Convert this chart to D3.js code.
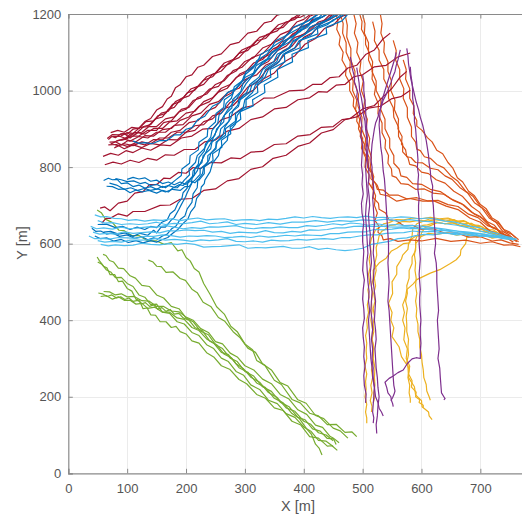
<!DOCTYPE html>
<html><head><meta charset="utf-8">
<script src="https://cdn.jsdelivr.net/npm/d3@7"></script>
<style>body{margin:0;background:#fff}svg{display:block}</style>
</head><body><svg id="c" width="522" height="515"></svg>
<script>
const xTicks=[0,100,200,300,400,500,600,700];
const yTicks=[0,200,400,600,800,1000,1200];
const xLabel="X [m]", yLabel="Y [m]";

const greenTracks=[
[[49,688],[56,681],[63,664],[75,655],[86,635],[95,634],[108,621],[120,621],[135,607],[150,607],[163,598],[175,603],[186,581],[193,584],[200,564],[207,555],[214,535],[222,526],[230,496],[241,467],[252,435],[265,416],[276,384],[287,370],[300,338],[313,323],[320,295],[334,282],[350,243],[362,232],[380,193],[394,184],[410,157],[425,150],[440,127],[455,128],[470,107],[482,108],[490,96]],
[[136,557],[144,552],[150,541],[158,540],[166,525],[178,526],[190,509],[199,504],[210,481],[219,472],[229,447],[242,436],[255,407],[266,397],[280,370],[292,354],[305,327],[318,316],[330,286],[345,270],[360,237],[373,228],[390,192],[404,183],[420,151],[434,143],[450,118],[462,111],[475,92]],
[[49,565],[53,555],[60,541],[66,536],[71,519],[79,519],[85,501],[92,502],[100,483],[108,476],[115,455],[121,451],[127,430],[134,432],[140,414],[148,413],[156,396],[166,396],[175,381],[183,384],[190,370],[200,364],[210,346],[222,340],[235,315],[247,304],[260,281],[274,272],[290,245],[303,234],[320,206],[335,196],[350,171],[365,164],[380,136],[395,126],[410,96],[425,92],[440,71],[448,72],[457,60]],
[[50,552],[57,546],[65,531],[72,526],[80,511],[90,512],[100,496],[110,488],[120,466],[130,460],[140,441],[150,442],[160,421],[172,418],[185,396],[197,390],[210,368],[222,360],[235,336],[247,326],[260,301],[272,292],[285,266],[298,256],[310,231],[325,219],[340,191],[355,182],[370,156],[385,146],[400,121],[412,110],[425,86],[438,84],[450,70]],
[[59,572],[64,569],[70,556],[77,552],[85,536],[94,535],[105,516],[114,510],[125,491],[138,488],[150,466],[162,458],[175,436],[188,430],[200,406],[212,396],[225,371],[238,362],[250,336],[262,326],[275,301],[287,292],[300,266],[315,254],[330,226],[345,214],[360,186],[375,174],[390,146],[402,140],[415,116],[428,110],[440,91],[452,90],[460,80]],
[[51,471],[58,469],[66,462],[74,466],[82,458],[89,461],[96,454],[103,458],[110,449],[118,452],[125,443],[131,446],[138,436],[145,440],[152,429],[159,433],[166,423],[173,428],[180,416],[188,418],[195,406],[205,400],[215,381],[228,372],[240,346],[252,336],[265,311],[277,302],[290,276],[305,264],[320,236],[335,224],[350,196],[365,184],[380,156],[392,144],[405,116],[413,102],[420,76],[426,66],[431,48]],
[[55,462],[65,464],[75,455],[85,461],[95,452],[105,452],[115,442],[125,444],[135,431],[147,434],[160,421],[172,421],[185,406],[197,402],[210,381],[222,373],[235,351],[247,340],[260,316],[272,310],[285,286],[297,274],[310,251],[325,238],[340,211],[355,198],[370,171],[385,162],[400,136],[412,128],[425,106],[438,100],[450,85]],
[[60,475],[70,474],[80,466],[90,469],[100,461],[112,462],[125,451],[137,450],[150,436],[162,436],[175,424],[188,422],[200,408],[212,400],[225,378],[238,368],[250,344],[262,338],[275,314],[287,304],[300,281],[315,270],[330,246],[345,234],[360,206],[375,194],[390,166],[405,154],[420,126],[432,120],[445,96],[450,92],[455,75]]
];

const yellowTracks=[
[[758,612],[747,621],[735,622],[722,636],[710,637],[697,648],[685,649],[672,660],[660,659],[645,667],[630,665],[615,669],[600,665],[585,667],[570,662],[557,663],[545,655],[536,652],[528,642],[522,636],[518,622],[515,614],[513,600],[514,580],[511,560],[513,540],[510,520],[512,500],[509,480],[511,460],[508,440],[510,420],[507,400],[508,380],[505,360],[507,340],[506,320],[507,300],[504,280],[507,260],[505,240],[506,220],[504,200],[507,180],[505,160],[507,145],[507,131]],
[[750,615],[738,625],[725,625],[712,639],[700,639],[685,653],[670,652],[655,663],[640,659],[625,663],[610,659],[595,661],[580,657],[567,658],[555,649],[546,648],[538,637],[532,632],[528,620],[526,605],[523,590],[524,570],[521,550],[523,530],[520,510],[522,490],[519,470],[521,450],[518,430],[520,410],[518,390],[519,370],[516,350],[519,330],[517,310],[518,290],[515,270],[517,250],[514,230],[516,210],[513,190],[516,175],[515,160]],
[[745,612],[732,619],[720,615],[707,625],[695,617],[685,624],[677,617],[675,600],[667,584],[666,570],[659,558],[649,548],[631,532],[615,523],[592,506],[586,495],[575,480],[573,460],[568,440],[571,420],[568,400],[572,380],[570,349],[576,325],[574,300],[580,280],[578,260],[584,242],[583,225],[591,212],[590,200],[597,192],[596,185],[603,178],[603,171]],
[[752,610],[736,617],[720,615],[705,623],[690,619],[675,626],[660,622],[643,629],[626,624],[612,627],[600,619],[592,621],[585,614],[582,610],[580,602],[569,600],[558,588],[549,581],[540,562],[529,551],[518,531],[518,510],[515,490],[517,470],[515,450],[516,425],[514,400],[517,375],[516,350],[519,325],[518,300],[521,275],[520,250],[521,230],[519,210],[520,195],[518,184]],
[[740,620],[727,631],[715,632],[702,645],[690,645],[675,658],[660,657],[645,665],[630,662],[615,665],[600,657],[592,652],[585,637],[584,620],[578,600],[577,585],[568,570],[566,560],[558,540],[558,520],[550,500],[551,470],[544,444],[550,420],[548,400],[553,380],[550,357],[562,330],[566,305],[577,279],[578,250],[588,226],[590,205],[600,190],[601,174],[612,160],[613,150],[618,140]],
[[755,610],[742,619],[730,619],[715,631],[700,632],[685,645],[670,645],[655,655],[640,652],[625,656],[610,649],[602,648],[595,638],[594,625],[590,610],[590,590],[588,570],[590,550],[589,530],[591,510],[590,490],[592,470],[590,450],[592,430],[591,410],[594,390],[594,370],[597,350],[597,330],[600,310],[601,290],[603,270],[604,250],[608,232],[609,215],[613,200],[615,191]],
[[742,615],[728,625],[715,627],[702,638],[690,637],[677,649],[665,647],[652,655],[640,652],[627,655],[615,647],[606,642],[600,628],[598,615],[590,600],[590,582],[584,565],[584,548],[579,530],[579,510],[575,490],[576,470],[573,450],[576,430],[574,410],[575,390],[575,370],[578,350],[577,330],[578,310],[575,290],[579,270],[577,250],[580,230],[579,210],[581,195],[581,184]]
];

const orangeTracks=[
[[462,1200],[467,1175],[466,1150],[472,1125],[472,1100],[479,1075],[478,1050],[484,1025],[483,1000],[490,975],[488,950],[495,925],[493,900],[500,875],[498,850],[505,825],[504,800],[511,780],[510,760],[518,740],[518,720],[527,705],[528,690],[539,680],[545,662],[557,660],[570,647],[585,648],[600,637],[620,639],[640,627],[660,628],[680,617],[700,618],[720,607],[735,610],[750,602],[765,598]],
[[485,1200],[489,1175],[486,1150],[492,1125],[490,1100],[497,1075],[495,1050],[501,1025],[498,1000],[504,975],[501,950],[508,925],[506,900],[512,875],[510,850],[515,825],[513,800],[519,775],[516,750],[522,725],[520,700],[525,680],[521,660],[528,645],[526,630],[533,620],[535,610],[547,613],[560,606],[580,610],[600,607],[625,614],[650,606],[675,609],[700,601],[720,605],[740,596],[755,597],[768,592]],
[[470,1200],[474,1170],[473,1140],[480,1110],[480,1080],[487,1050],[486,1020],[493,990],[492,960],[499,930],[498,900],[505,875],[504,850],[511,825],[510,800],[517,785],[517,767],[525,752],[530,729],[543,725],[558,711],[580,718],[602,711],[622,711],[642,698],[662,689],[682,667],[700,656],[716,633],[736,623],[756,604]],
[[500,1200],[504,1175],[503,1150],[510,1125],[510,1100],[517,1075],[516,1050],[523,1025],[523,1000],[531,975],[531,950],[538,925],[538,900],[546,875],[546,850],[553,830],[553,810],[562,795],[565,777],[575,773],[585,757],[600,755],[615,742],[632,736],[650,717],[668,705],[685,682],[700,671],[715,647],[728,638],[740,617],[752,615],[762,605]],
[[517,1180],[521,1155],[520,1130],[528,1105],[528,1080],[536,1055],[536,1030],[544,1005],[544,980],[552,955],[553,930],[561,905],[561,880],[568,860],[568,840],[577,825],[580,807],[590,803],[600,787],[612,783],[625,767],[640,758],[655,737],[670,723],[685,697],[698,683],[712,657],[724,648],[735,627],[747,621],[758,610]],
[[552,1131],[557,1105],[556,1080],[563,1055],[563,1030],[570,1005],[569,980],[576,955],[576,930],[583,905],[583,880],[590,865],[592,847],[598,843],[605,827],[615,823],[626,807],[638,798],[650,777],[662,763],[675,737],[688,723],[700,697],[710,685],[720,662],[731,653],[742,632],[753,625],[765,610]],
[[569,1080],[574,1055],[573,1030],[580,1005],[580,980],[587,960],[586,940],[592,922],[592,907],[601,896],[610,877],[618,866],[626,844],[636,835],[645,812],[653,798],[661,772],[670,761],[680,737],[690,725],[700,702],[710,691],[720,667],[730,658],[740,637],[750,630],[760,615]],
[[455,1200],[458,1180],[456,1160],[462,1140],[460,1120],[467,1100],[465,1080],[472,1060],[471,1040],[478,1020],[478,1000],[485,980],[484,960],[491,940],[490,920],[497,900],[496,880],[503,860],[502,840],[509,820],[508,800],[515,785],[514,770],[522,757],[525,742],[535,740],[545,727],[560,727],[575,717],[592,720],[610,712],[628,713],[645,702],[662,697],[680,677],[696,668],[712,647],[726,640],[740,622],[752,617],[765,605]],
[[530,1200],[533,1175],[531,1150],[537,1125],[536,1100],[543,1075],[543,1050],[549,1025],[548,1000],[555,975],[554,950],[561,925],[560,900],[567,880],[566,860],[573,845],[575,827],[582,825],[590,812],[602,811],[615,797],[628,793],[640,777],[652,768],[665,747],[678,733],[690,707],[703,693],[715,667],[727,655],[738,632],[749,623],[760,608]],
[[495,1200],[499,1180],[498,1160],[505,1140],[505,1120],[511,1100],[510,1080],[517,1055],[516,1030],[522,1010],[520,990],[527,965],[526,940],[533,915],[533,890],[539,870],[538,850],[544,830],[543,810],[549,795],[550,777],[557,773],[565,757],[577,755],[590,742],[605,743],[620,732],[638,729],[655,712],[672,701],[690,677],[705,665],[720,642],[734,633],[748,615]]
];

const redTracks=[
[[68,872],[74,880],[80,877],[90,887],[100,886],[110,899],[120,902],[130,919],[140,927],[150,949],[160,958],[168,978],[175,985],[182,1007],[190,1015],[200,1036],[210,1041],[220,1061],[230,1066],[245,1089],[260,1096],[275,1120],[290,1126],[305,1150],[320,1155],[333,1177],[345,1181],[354,1196],[362,1200]],
[[72,860],[83,869],[95,872],[105,886],[115,887],[128,906],[140,911],[152,934],[165,940],[177,964],[190,971],[202,994],[215,1001],[230,1027],[245,1036],[260,1061],[275,1071],[290,1097],[305,1105],[320,1130],[335,1136],[350,1160],[365,1165],[380,1189],[395,1192],[405,1200]],
[[75,880],[88,880],[100,874],[112,890],[125,891],[137,906],[150,906],[165,926],[180,931],[192,951],[205,956],[220,982],[235,991],[250,1016],[265,1026],[280,1052],[295,1061],[312,1086],[330,1096],[347,1124],[365,1136],[382,1164],[400,1176],[410,1194],[420,1200]],
[[70,865],[80,866],[90,858],[102,870],[115,866],[130,882],[145,881],[160,898],[175,901],[190,922],[205,931],[222,959],[240,971],[255,996],[270,1006],[285,1034],[300,1046],[315,1072],[330,1081],[348,1109],[365,1121],[382,1149],[400,1161],[415,1184],[430,1191],[440,1200]],
[[78,850],[90,859],[100,854],[115,864],[130,858],[145,872],[160,871],[175,891],[190,896],[205,916],[220,921],[235,946],[250,956],[265,984],[280,996],[295,1024],[310,1036],[325,1064],[340,1076],[355,1104],[370,1116],[385,1139],[400,1146],[415,1169],[430,1176],[443,1196],[455,1200]],
[[66,875],[75,885],[85,884],[95,888],[105,876],[118,890],[130,886],[145,901],[160,901],[172,918],[185,921],[200,941],[215,946],[230,971],[245,981],[260,1006],[275,1016],[292,1044],[310,1056],[328,1084],[345,1096],[362,1126],[380,1141],[395,1166],[410,1176],[418,1194],[425,1200]],
[[80,855],[95,861],[110,856],[125,866],[140,861],[155,876],[170,876],[185,891],[200,891],[215,908],[230,911],[245,934],[260,941],[275,969],[290,981],[305,1009],[320,1021],[337,1054],[355,1071],[370,1099],[385,1111],[400,1139],[415,1151],[430,1176],[445,1186],[460,1200]],
[[90,870],[105,881],[120,881],[135,896],[150,896],[162,916],[175,921],[188,944],[200,951],[212,974],[225,981],[240,1004],[255,1011],[270,1039],[285,1051],[300,1076],[315,1086],[330,1111],[345,1121],[360,1146],[375,1156],[388,1179],[400,1186],[412,1200]],
[[72,890],[84,896],[95,891],[108,904],[120,901],[132,919],[145,921],[158,941],[170,946],[182,971],[195,981],[208,1004],[220,1011],[235,1036],[250,1046],[265,1072],[280,1081],[295,1106],[310,1116],[325,1139],[340,1146],[357,1172],[375,1181],[392,1200]],
[[82,868],[94,874],[105,868],[120,880],[135,876],[150,891],[165,891],[180,909],[195,911],[210,934],[225,941],[240,964],[255,971],[272,996],[290,1006],[305,1032],[320,1041],[335,1066],[350,1076],[365,1104],[380,1116],[395,1144],[410,1156],[425,1179],[440,1186],[450,1200]],
[[68,858],[82,859],[95,848],[110,858],[125,851],[140,862],[155,858],[170,872],[185,871],[200,891],[215,896],[230,919],[245,926],[262,951],[280,961],[298,989],[315,1001],[332,1031],[350,1046],[368,1076],[385,1091],[402,1121],[420,1136],[435,1162],[450,1171],[463,1192],[475,1200]],
[[88,880],[100,890],[110,888],[122,904],[135,906],[148,926],[160,931],[170,951],[180,956],[192,979],[205,986],[218,1009],[230,1016],[245,1042],[260,1051],[275,1076],[290,1086],[305,1111],[320,1121],[337,1146],[355,1156],[370,1179],[385,1186],[395,1200]],
[[59,828],[72,836],[85,831],[98,843],[110,838],[125,850],[140,844],[157,858],[173,856],[192,876],[210,881],[228,899],[246,901],[260,924],[275,931],[295,954],[314,961],[332,980],[350,981],[375,999],[400,1001],[415,1016],[430,1016],[445,1034],[460,1036],[475,1059],[490,1066],[505,1094],[520,1106],[534,1134],[547,1150]],
[[62,806],[76,813],[90,808],[105,818],[120,812],[135,823],[150,818],[165,832],[180,831],[197,846],[215,846],[232,866],[250,871],[270,894],[290,901],[310,924],[330,931],[350,952],[370,956],[390,976],[410,981],[425,997],[440,996],[455,1014],[470,1016],[485,1036],[500,1041],[520,1062],[540,1066],[560,1088],[581,1098]],
[[57,654],[64,666],[71,666],[85,678],[100,672],[110,684],[130,684],[156,700],[173,701],[190,716],[210,718],[230,739],[250,743],[270,764],[290,770],[310,794],[330,801],[348,823],[370,831],[390,854],[410,863],[430,889],[450,898],[470,924],[490,931],[510,954],[530,959],[550,979],[565,984],[581,1001]],
[[54,693],[62,696],[71,686],[85,706],[100,711],[113,732],[127,736],[138,754],[150,754],[162,771],[173,770],[187,786],[200,784],[212,799],[224,796],[242,812],[260,811],[276,824],[292,822],[310,839],[330,841],[350,859],[370,861],[390,881],[411,885],[430,904],[450,906],[465,924],[479,927],[500,952],[520,961],[535,984],[550,1006],[563,1034],[575,1050]]
];

const blueTracks=[
[[60,765],[68,771],[75,767],[83,768],[90,757],[100,759],[110,749],[120,753],[130,745],[140,749],[150,742],[160,750],[165,746],[175,757],[182,766],[192,778],[193,795],[206,810],[207,830],[221,845],[222,865],[236,880],[237,900],[250,918],[251,940],[264,956],[265,976],[279,991],[282,1010],[298,1028],[302,1050],[320,1070],[327,1095],[345,1110],[352,1130],[373,1146],[382,1165],[408,1182],[425,1200]],
[[65,750],[75,749],[85,742],[95,743],[105,733],[115,740],[125,735],[137,739],[150,732],[160,739],[170,735],[178,746],[185,746],[194,760],[197,766],[206,780],[205,795],[216,812],[219,830],[231,848],[237,865],[249,883],[252,900],[264,918],[265,935],[278,955],[279,976],[293,997],[297,1020],[314,1042],[319,1065],[338,1083],[345,1100],[361,1114],[367,1130],[388,1148],[397,1165],[420,1182],[440,1200]],
[[80,770],[90,767],[100,762],[111,764],[122,757],[131,760],[140,752],[150,755],[160,747],[170,752],[180,747],[188,754],[195,752],[203,764],[205,766],[214,780],[215,795],[227,812],[229,830],[242,848],[244,865],[257,883],[259,900],[273,920],[274,940],[289,958],[292,976],[308,995],[312,1015],[330,1035],[335,1055],[354,1075],[359,1095],[377,1112],[382,1130],[403,1148],[410,1165],[436,1182],[455,1200]],
[[70,758],[82,753],[95,742],[106,746],[118,739],[129,744],[140,739],[152,743],[165,735],[177,742],[190,739],[198,749],[205,749],[212,762],[215,766],[224,781],[224,795],[237,812],[237,830],[251,848],[251,865],[267,883],[267,900],[284,920],[284,940],[302,958],[302,976],[322,995],[321,1015],[344,1035],[343,1055],[368,1075],[367,1095],[394,1112],[393,1130],[424,1148],[423,1165],[450,1182],[465,1200]],
[[100,768],[110,773],[120,769],[130,772],[140,763],[150,766],[160,757],[170,761],[180,754],[190,761],[200,755],[208,764],[215,759],[220,767],[222,766],[231,783],[231,800],[246,817],[245,835],[261,852],[260,870],[276,887],[275,905],[293,925],[292,945],[314,960],[313,976],[334,995],[333,1015],[356,1035],[355,1055],[381,1075],[380,1095],[408,1112],[407,1130],[439,1148],[438,1165],[465,1182],[475,1200]],
[[40,640],[47,632],[55,633],[65,625],[75,628],[87,619],[100,623],[112,614],[125,618],[135,610],[145,615],[152,612],[160,620],[168,625],[175,638],[183,646],[190,663],[198,672],[202,691],[210,708],[212,730],[219,746],[220,766],[228,783],[230,800],[239,818],[242,835],[250,850],[253,866],[263,885],[266,905],[276,927],[280,949],[288,962],[290,976],[303,995],[308,1015],[324,1035],[330,1055],[349,1075],[355,1095],[374,1110],[380,1125],[395,1140],[410,1155],[425,1170],[442,1185],[460,1200]],
[[45,620],[55,613],[65,615],[77,607],[90,611],[102,603],[115,608],[127,602],[140,608],[150,604],[160,611],[169,616],[178,628],[186,637],[195,653],[203,664],[208,683],[215,697],[218,718],[224,730],[226,748],[231,757],[232,766],[241,788],[245,810],[255,830],[258,850],[270,870],[272,890],[284,912],[287,935],[297,955],[300,976],[313,995],[318,1015],[334,1035],[340,1055],[358,1075],[365,1095],[385,1112],[392,1130],[412,1145],[420,1160],[440,1172],[450,1185],[462,1192],[470,1200]],
[[60,630],[72,632],[85,625],[97,628],[110,619],[122,627],[135,622],[145,635],[150,628],[158,644],[165,643],[175,662],[180,668],[188,690],[192,702],[199,722],[202,733],[209,755],[210,770],[219,790],[222,803],[231,830],[235,843],[244,868],[248,883],[258,912],[262,928],[270,948],[275,958],[281,970],[286,979],[296,1002],[302,1018],[315,1042],[322,1058],[339,1082],[346,1098],[365,1120],[372,1133],[395,1155],[402,1168],[425,1190],[432,1200]],
[[50,650],[65,651],[80,642],[92,645],[105,637],[117,643],[130,637],[140,645],[150,642],[159,656],[168,662],[173,678],[181,688],[186,705],[193,718],[195,733],[202,745],[203,760],[211,775],[212,790],[221,808],[222,825],[231,842],[233,860],[242,878],[244,895],[254,915],[256,935],[266,952],[268,966],[277,980],[281,998],[294,1020],[299,1040],[315,1060],[320,1078],[338,1096],[345,1112],[363,1130],[372,1146],[392,1163],[402,1178],[425,1200]],
[[110,868],[120,862],[130,864],[142,861],[155,869],[167,869],[180,884],[190,884],[200,899],[210,903],[220,924],[232,933],[245,959],[257,968],[270,994],[285,1006],[300,1034],[315,1046],[330,1074],[345,1086],[360,1114],[375,1126],[390,1154],[405,1164],[420,1189],[432,1192],[440,1200]]
];

const lightBlueTracks=[
[[45,675],[55,670],[65,671],[78,666],[90,665],[102,661],[115,663],[130,659],[145,662],[160,661],[175,665],[190,660],[205,664],[220,667],[235,662],[250,664],[265,665],[280,660],[295,662],[310,663],[325,660],[340,664],[355,663],[370,666],[385,670],[400,667],[415,671],[430,668],[445,666],[460,669],[475,670],[490,668],[505,672],[520,668],[535,669],[550,667],[565,670],[580,669],[595,665],[610,667],[625,664],[640,659],[655,657],[670,651],[685,645],[700,641],[715,632],[730,626],[743,619],[755,615]],
[[50,660],[62,654],[75,655],[90,650],[105,652],[120,650],[135,652],[150,656],[165,650],[180,653],[195,652],[210,655],[225,659],[240,652],[255,654],[270,657],[285,650],[300,653],[320,650],[340,655],[360,651],[380,656],[400,656],[420,660],[440,656],[460,660],[480,658],[500,662],[520,660],[540,664],[560,659],[580,663],[600,659],[620,657],[640,652],[660,648],[678,642],[695,635],[712,628],[728,622],[745,614],[760,612]],
[[38,645],[48,639],[60,641],[75,638],[90,643],[105,639],[120,641],[135,644],[150,643],[165,647],[180,643],[195,639],[210,642],[225,640],[240,644],[255,643],[270,645],[285,647],[300,641],[315,639],[330,642],[345,641],[360,644],[375,642],[390,642],[405,647],[420,645],[435,648],[450,652],[465,649],[480,654],[495,652],[510,648],[525,652],[540,648],[555,650],[570,648],[585,647],[600,646],[620,642],[640,638],[660,633],[680,630],[700,626],[718,622],[738,614],[758,610]],
[[42,630],[53,625],[65,627],[80,625],[95,631],[110,627],[125,629],[140,631],[155,628],[170,634],[185,633],[200,636],[215,634],[230,635],[245,630],[260,632],[275,627],[290,630],[305,629],[320,628],[335,634],[350,629],[365,628],[380,632],[395,630],[410,636],[425,635],[440,637],[455,641],[470,641],[485,645],[500,646],[515,645],[530,646],[545,644],[560,643],[575,644],[590,641],[605,640],[620,641],[640,635],[660,633],[680,627],[700,626],[718,619],[735,620],[750,613],[762,612]],
[[35,620],[45,613],[57,614],[70,612],[85,616],[100,615],[115,614],[130,619],[145,619],[160,623],[175,621],[190,617],[205,620],[220,619],[235,621],[250,620],[265,616],[280,617],[295,619],[310,616],[325,620],[340,617],[355,619],[370,622],[385,620],[400,623],[415,622],[430,621],[445,626],[460,626],[475,630],[490,631],[505,631],[520,637],[535,636],[550,638],[565,641],[580,639],[595,640],[610,637],[625,634],[640,634],[660,629],[680,628],[700,622],[720,622],[736,616],[752,614]],
[[50,608],[62,604],[75,606],[90,604],[105,609],[120,609],[135,610],[150,614],[165,609],[180,611],[195,609],[210,606],[225,610],[240,608],[255,610],[270,613],[285,606],[300,605],[315,607],[330,604],[345,609],[360,607],[375,608],[390,611],[405,609],[420,612],[435,613],[450,611],[465,616],[480,616],[495,620],[510,623],[525,623],[540,627],[555,628],[570,629],[585,633],[600,631],[620,632],[640,627],[660,627],[680,621],[700,621],[720,617],[745,616]],
[[55,598],[68,594],[80,597],[95,595],[110,596],[125,601],[140,598],[155,597],[170,600],[185,598],[200,601],[215,598],[230,591],[245,592],[260,593],[275,595],[290,597],[305,588],[320,590],[335,589],[350,591],[365,593],[380,588],[395,588],[410,592],[425,585],[440,588],[455,584],[470,582],[485,584],[500,588],[515,598],[530,602],[545,606],[560,613],[575,615],[590,621],[605,624],[620,623],[640,628],[660,623],[680,626],[700,619],[720,620],[738,613],[755,612]]
];

const purpleTracks=[
[[479,1088],[481,1074],[482,1060],[484,1048],[486,1036],[486,1023],[489,1010],[491,997],[490,984],[493,970],[495,955],[494,943],[496,931],[499,905],[497,880],[500,855],[499,830],[498,805],[500,780],[499,755],[501,730],[498,705],[499,680],[502,655],[500,630],[500,605],[502,580],[501,555],[500,530],[503,505],[501,480],[500,455],[502,430],[503,405],[500,380],[501,355],[503,330],[502,305],[504,280],[502,255],[503,230],[506,207],[505,184]],
[[490,1060],[492,1040],[494,1020],[495,1000],[498,980],[500,960],[501,940],[504,920],[505,900],[507,875],[509,850],[508,825],[510,800],[511,775],[509,750],[511,725],[512,700],[510,675],[511,650],[513,625],[512,600],[514,575],[515,550],[513,525],[514,500],[516,475],[515,450],[514,425],[516,400],[517,375],[515,350],[517,325],[516,300],[518,275],[517,250],[520,225],[519,200],[518,180],[517,160],[519,145],[518,131]],
[[564,1106],[562,1093],[560,1080],[557,1065],[555,1050],[551,1035],[548,1020],[544,1005],[540,990],[535,975],[532,960],[528,945],[526,930],[522,915],[520,900],[518,880],[516,860],[515,840],[514,820],[516,800],[516,780],[518,760],[519,740],[517,720],[518,700],[519,675],[520,650],[518,625],[519,600],[518,575],[520,550],[519,525],[518,500],[520,475],[522,450],[521,425],[520,400],[522,375],[523,350],[521,325],[522,300],[523,275],[525,250],[526,225],[528,200],[526,175],[525,150],[523,127],[524,104]],
[[581,1062],[582,1041],[584,1020],[585,1000],[585,980],[587,960],[588,940],[588,920],[590,900],[591,880],[592,860],[593,840],[594,820],[593,800],[595,780],[594,760],[594,740],[596,720],[595,700],[595,680],[596,660],[597,640],[596,620],[596,600],[597,580],[598,560],[597,540],[596,520],[597,500],[598,480],[597,460],[597,440],[598,420],[599,400],[598,380],[598,360],[599,340],[598,320],[598,300],[591,302],[584,299],[576,287],[569,270],[560,263],[552,254],[545,248],[538,238],[541,224],[543,210],[548,200],[549,190],[551,182],[552,174]],
[[575,1110],[577,1090],[578,1070],[580,1050],[582,1030],[585,1010],[588,990],[591,970],[595,950],[598,930],[602,910],[605,890],[608,870],[610,850],[612,830],[613,810],[615,790],[616,770],[619,750],[618,725],[620,700],[621,675],[622,650],[623,625],[624,600],[622,575],[625,550],[626,525],[626,500],[627,475],[628,450],[629,425],[627,400],[628,375],[629,350],[630,325],[628,300],[631,275],[632,250],[633,230],[634,210],[638,200],[640,195],[638,192]],
[[557,1100],[555,1085],[552,1070],[549,1055],[546,1040],[543,1025],[540,1010],[537,995],[534,980],[532,965],[530,950],[529,930],[528,910],[529,890],[530,870],[531,850],[533,830],[534,810],[535,790],[537,770],[538,750],[539,725],[540,700],[541,675],[542,650],[543,625],[544,600],[544,575],[543,550],[544,525],[545,500],[544,475],[543,450],[545,425],[546,400],[547,375],[548,350],[549,325],[550,300],[551,275],[552,250],[553,230],[555,215],[553,205],[551,198],[548,190]],
[[500,1040],[502,1020],[502,1000],[504,975],[505,950],[506,925],[507,900],[508,875],[506,850],[507,825],[505,800],[506,775],[507,750],[508,725],[506,700],[505,675],[506,650],[507,625],[508,600],[509,575],[507,550],[508,525],[509,500],[511,475],[510,450],[512,425],[510,400],[511,375],[512,350],[513,325],[514,300],[516,275],[518,250],[520,225],[522,200],[526,185],[528,170],[532,160],[535,150]]
];

const groups=[
  {tracks:greenTracks,color:"#77AC30"},
  {tracks:yellowTracks,color:"#EDB120"},
  {tracks:orangeTracks,color:"#D95319"},
  {tracks:redTracks,color:"#A2142F"},
  {tracks:blueTracks,color:"#0072BD"},
  {tracks:lightBlueTracks,color:"#4DBEEE"},
  {tracks:purpleTracks,color:"#7E2F8E"}
];

const L=68.3,T=14,B=473.3,R=524.5;
const x=d3.scaleLinear().domain([0,775]).range([L,R]);
const y=d3.scaleLinear().domain([0,1200]).range([B,T]);
const svg=d3.select("#c");
const font="'Liberation Sans', Arial, Helvetica, sans-serif";

svg.append("defs").append("clipPath").attr("id","clip")
  .append("rect").attr("x",L).attr("y",T).attr("width",R-L).attr("height",B-T);

const grid=svg.append("g").attr("stroke","#ebebeb").attr("stroke-width",1);
grid.selectAll(".gx").data(xTicks.filter(d=>d>0)).enter().append("line")
  .attr("x1",d=>Math.round(x(d))+0.5).attr("x2",d=>Math.round(x(d))+0.5).attr("y1",T).attr("y2",B);
grid.selectAll(".gy").data(yTicks.filter(d=>d>0&&d<1200)).enter().append("line")
  .attr("y1",d=>Math.round(y(d))+0.5).attr("y2",d=>Math.round(y(d))+0.5).attr("x1",L).attr("x2",R);

const line=d3.line().x(d=>x(d[0])).y(d=>y(d[1]));
const plot=svg.append("g").attr("clip-path","url(#clip)");
groups.forEach(g=>{
  plot.append("g").selectAll("path").data(g.tracks).enter().append("path")
    .attr("d",line).attr("fill","none").attr("stroke",g.color)
    .attr("stroke-width",1.2).attr("stroke-linejoin","round");
});

const axCol="#8a8a8a";
const xAxis=d3.axisBottom(x).tickValues(xTicks).tickSize(-4.5).tickPadding(8).tickFormat(d3.format("d"));
const yAxis=d3.axisLeft(y).tickValues(yTicks).tickSize(-4.5).tickPadding(7).tickFormat(d3.format("d"));
const gx=svg.append("g").attr("transform",`translate(0,${B})`).call(xAxis);
const gy=svg.append("g").attr("transform",`translate(${L},0)`).call(yAxis);
const gxt=svg.append("g").attr("transform",`translate(0,${T})`).call(d3.axisTop(x).tickValues(xTicks).tickSize(-4.5).tickFormat(""));
[gx,gy,gxt].forEach(g=>{
  g.selectAll("path").attr("stroke",axCol).attr("stroke-width",1.2);
  g.selectAll("line").attr("stroke",axCol);
  g.selectAll("text").attr("fill","#555").style("font-family",font).style("font-size","13px");
});
gx.selectAll("text").attr("dy","0.9em");

svg.append("text").attr("x",298).attr("y",511).attr("text-anchor","middle")
  .style("font-family",font).style("font-size","14.5px").attr("fill","#555").text(xLabel);
svg.append("text").attr("transform","translate(27,243) rotate(-90)").attr("text-anchor","middle")
  .style("font-family",font).style("font-size","14.5px").attr("fill","#555").text(yLabel);
</script>
</body></html>
